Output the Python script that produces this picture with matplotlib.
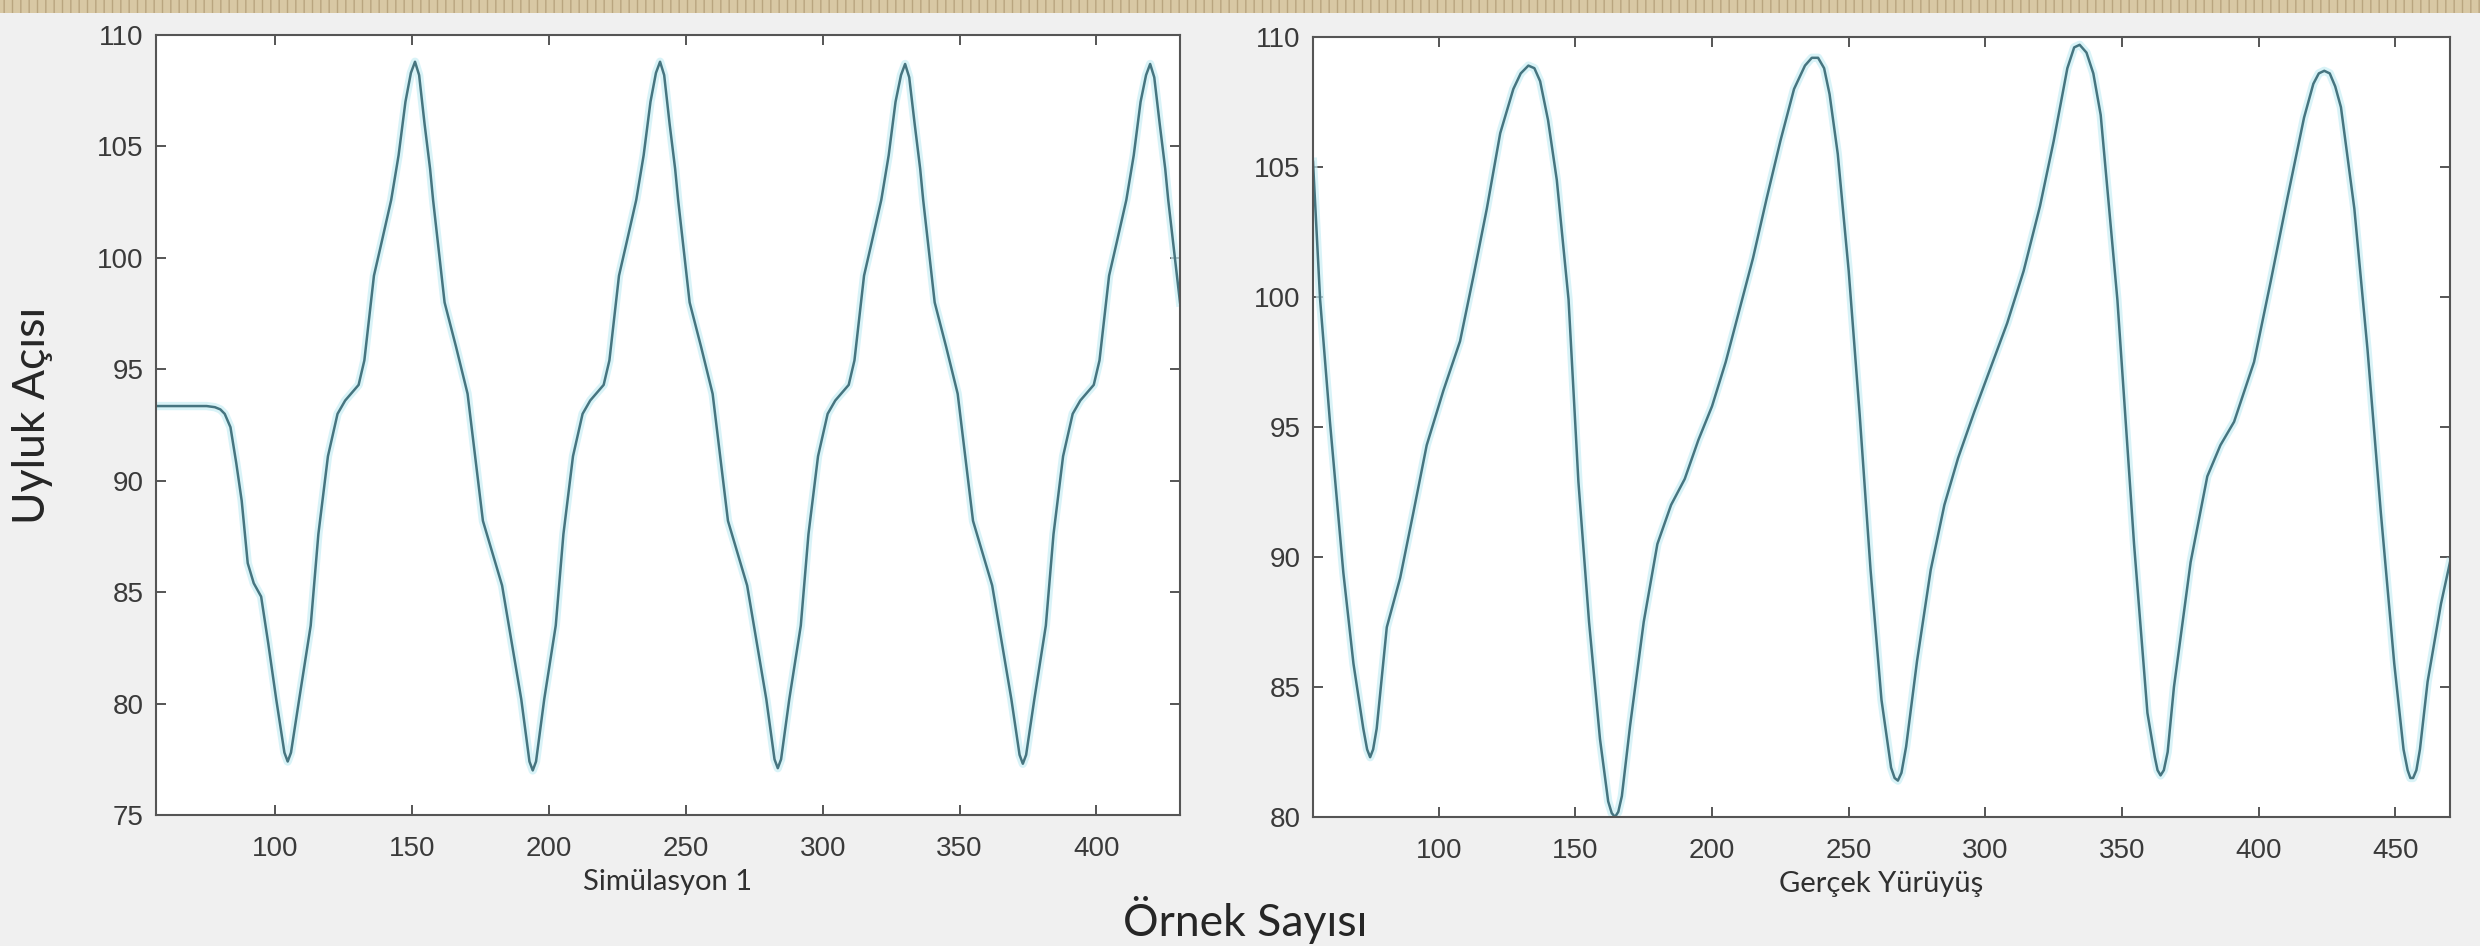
import matplotlib
matplotlib.use("Agg")
import matplotlib.pyplot as plt
from matplotlib.patches import Rectangle

# ---------------- data ----------------
sim_x = [56.5, 65, 75, 78, 80, 81.6, 83.7, 85.8, 87.8, 90.0, 92.2, 94.9, 97.5, 100.4, 103.4, 104.6,
         105.8, 108.8, 113.0, 115.8, 119.3, 122.8, 125.6, 130.5, 132.6, 136.1, 138.9, 142.4, 145.1, 147.6, 149.6,
         151.1, 152.6, 154.6, 156.6, 157.7, 161.9, 166.1, 170.3, 175.9, 182.9, 189.9, 192.9, 194.1,
         195.3, 198.3, 202.5, 205.3, 208.8, 212.3, 215.1, 220.0, 222.1, 225.6, 228.4, 231.9, 234.6, 237.1, 239.1,
         240.6, 242.1, 244.1, 246.1, 247.2, 251.4, 255.6, 259.8, 265.4, 272.4, 279.4, 282.4, 283.6,
         284.8, 287.8, 292.0, 294.8, 298.3, 301.8, 304.6, 309.5, 311.6, 315.1, 317.9, 321.4, 324.1, 326.6, 328.6,
         330.1, 331.6, 333.6, 335.6, 336.7, 340.9, 345.1, 349.3, 354.9, 361.9, 368.9, 371.9, 373.1,
         374.3, 377.3, 381.5, 384.3, 387.8, 391.3, 394.1, 399.0, 401.1, 404.6, 407.4, 410.9, 413.6, 416.1, 418.1,
         419.6, 421.1, 423.1, 425.1, 426.2, 430.5]
sim_y = [93.35, 93.35, 93.35, 93.3, 93.2, 93.0, 92.4, 90.8, 89.1, 86.3, 85.4, 84.8, 82.7, 80.2, 77.8, 77.4,
         77.8, 80.2, 83.5, 87.6, 91.1, 93.0, 93.6, 94.3, 95.4, 99.2, 100.7, 102.6, 104.6, 107.0, 108.3,
         108.8, 108.2, 106.0, 104.0, 102.6, 98.0, 96.0, 93.9, 88.2, 85.3, 80.2, 77.4, 77.0,
         77.4, 80.2, 83.5, 87.6, 91.1, 93.0, 93.6, 94.3, 95.4, 99.2, 100.7, 102.6, 104.6, 107.0, 108.3,
         108.8, 108.2, 106.0, 104.0, 102.6, 98.0, 96.0, 93.9, 88.2, 85.3, 80.2, 77.5, 77.1,
         77.5, 80.2, 83.5, 87.6, 91.1, 93.0, 93.6, 94.3, 95.4, 99.2, 100.7, 102.6, 104.6, 107.0, 108.2,
         108.7, 108.1, 106.0, 104.0, 102.6, 98.0, 96.0, 93.9, 88.2, 85.3, 80.2, 77.7, 77.3,
         77.7, 80.2, 83.5, 87.6, 91.1, 93.0, 93.6, 94.3, 95.4, 99.2, 100.7, 102.6, 104.6, 107.0, 108.2,
         108.7, 108.1, 106.0, 104.0, 102.6, 98.0]

real_x = [54, 56.6, 60.2, 65.1, 68.8, 72.4, 73.8, 74.9, 76.0, 77.3, 81.0, 85.9, 90.7, 95.6, 101.7, 107.8,
          112.7, 117.6, 122.5, 127.3, 130.0, 132.8, 135.0, 137.1, 140.0, 143.2, 147.5, 151.1, 155.0, 159.0,
          162.0, 163.3, 164.5, 165.7, 167.0, 170.0, 175.0, 180.0, 185.0, 190.0, 195.0, 200.0, 205.0, 210.0,
          215.0, 220.0, 225.0, 230.0, 234.0, 236.5, 238.8, 241.0, 243.0, 246.0, 250.0, 254.0, 258.0, 262.0,
          265.5, 266.8, 268.0, 269.3, 271.0, 275.0, 280.0, 285.0, 290.0, 296.0, 302.0, 308.0, 314.0, 320.0,
          325.0, 330.0, 332.5, 334.5, 337.0, 339.5, 342.2, 348.3, 354.4, 359.3, 362.0, 363.0, 364.1, 365.3,
          366.7, 369.0, 375.1, 381.2, 386.0, 391.0, 398.3, 404.4, 410.5, 416.6, 420.0, 422.0, 424.0, 426.0,
          428.0, 430.1, 435.0, 439.8, 444.7, 449.6, 453.0, 454.5, 455.5, 456.5, 457.7, 459.0, 461.8, 466.7,
          470.0]
real_y = [105.2, 99.9, 95.2, 89.4, 85.9, 83.4, 82.6, 82.3, 82.6, 83.4, 87.3, 89.2, 91.7, 94.3, 96.4, 98.3,
          100.8, 103.4, 106.3, 108.0, 108.6, 108.9, 108.8, 108.3, 106.8, 104.5, 99.9, 92.9, 87.5, 83.0,
          80.6, 80.15, 80.0, 80.2, 80.8, 83.5, 87.5, 90.5, 92.0, 93.0, 94.5, 95.8, 97.5, 99.5,
          101.5, 103.8, 106.0, 108.0, 108.9, 109.2, 109.2, 108.8, 107.8, 105.5, 101.0, 95.5, 89.5, 84.5,
          81.9, 81.5, 81.4, 81.7, 82.7, 86.0, 89.5, 92.0, 93.8, 95.6, 97.3, 99.0, 101.0, 103.5,
          106.0, 108.8, 109.6, 109.7, 109.4, 108.6, 107.0, 99.9, 90.5, 84.0, 82.3, 81.8, 81.6, 81.8,
          82.5, 85.0, 89.8, 93.1, 94.3, 95.2, 97.5, 100.6, 103.8, 106.9, 108.2, 108.6, 108.7, 108.6,
          108.1, 107.3, 103.4, 98.0, 91.7, 85.9, 82.6, 81.8, 81.5, 81.5, 81.8, 82.6, 85.2, 88.2,
          89.8]

sim_xticks = [100, 150, 200, 250, 300, 350, 400]
sim_yticks = [75, 80, 85, 90, 95, 100, 105, 110]
real_xticks = [100, 150, 200, 250, 300, 350, 400, 450]
real_yticks = [80, 85, 90, 95, 100, 105, 110]

sim_title = "Simülasyon 1"
real_title = "Gerçek Yürüyüş"
x_label = "Örnek Sayısı"
y_label = "Uyluk Açısı"

# ---------------- figure ----------------
W, H = 2480, 946
fig = plt.figure(figsize=(W / 100, H / 100), dpi=100, facecolor="#f0f0f0")

# textured top strip
fig.patches.append(Rectangle((0, 1 - 13 / H), 1, 13 / H, transform=fig.transFigure,
                             facecolor="#d8c8a4", edgecolor="#b9a57f", hatch="||", linewidth=0, zorder=0))

label_font = ["Lato", "DejaVu Sans"]
tick_font = "Liberation Sans"
line_color = "#467580"
halo_color = "#c9eef5"
spine_color = "#555555"


def make_axes(px_left, px_right, px_top, px_bottom):
    return fig.add_axes([px_left / W, 1 - px_bottom / H, (px_right - px_left) / W, (px_bottom - px_top) / H])


def style(ax, xticks, yticks, xlim, ylim, title):
    ax.set_facecolor("white")
    ax.set_xlim(*xlim)
    ax.set_ylim(*ylim)
    ax.set_xticks(xticks)
    ax.set_yticks(yticks)
    ax.tick_params(direction="in", length=7, width=1.4, color=spine_color,
                   top=True, right=True, labelsize=20, labelcolor="#3a3a3a")
    ax.tick_params(axis="x", pad=15)
    ax.tick_params(axis="y", pad=9)
    for lab in ax.get_xticklabels() + ax.get_yticklabels():
        lab.set_fontfamily(tick_font)
    for s in ax.spines.values():
        s.set_color(spine_color)
        s.set_linewidth(1.5)
    ax.set_xlabel(title, fontsize=21, family=label_font, color="#303030", labelpad=5)


ax1 = make_axes(156, 1180, 35, 815)
ax1.plot(sim_x, sim_y, color=halo_color, lw=6, alpha=0.7, solid_joinstyle="round")
ax1.plot(sim_x, sim_y, color=line_color, lw=1.8, solid_joinstyle="round")
style(ax1, sim_xticks, sim_yticks, (56.5, 430.5), (75, 110), sim_title)

ax2 = make_axes(1313, 2450, 37, 817)
ax2.plot(real_x, real_y, color=halo_color, lw=6, alpha=0.7, solid_joinstyle="round")
ax2.plot(real_x, real_y, color=line_color, lw=1.8, solid_joinstyle="round")
style(ax2, real_xticks, real_yticks, (54, 470), (80, 110), real_title)

fig.text(1245 / W, 1 - 920 / H, x_label, ha="center", va="center", fontsize=32,
         family=label_font, color="#262626")
fig.text(33 / W, 1 - 415 / H, y_label, ha="center", va="center", rotation=90, fontsize=32,
         family=label_font, color="#262626")

fig.savefig("out.png", dpi=100, facecolor=fig.get_facecolor())
